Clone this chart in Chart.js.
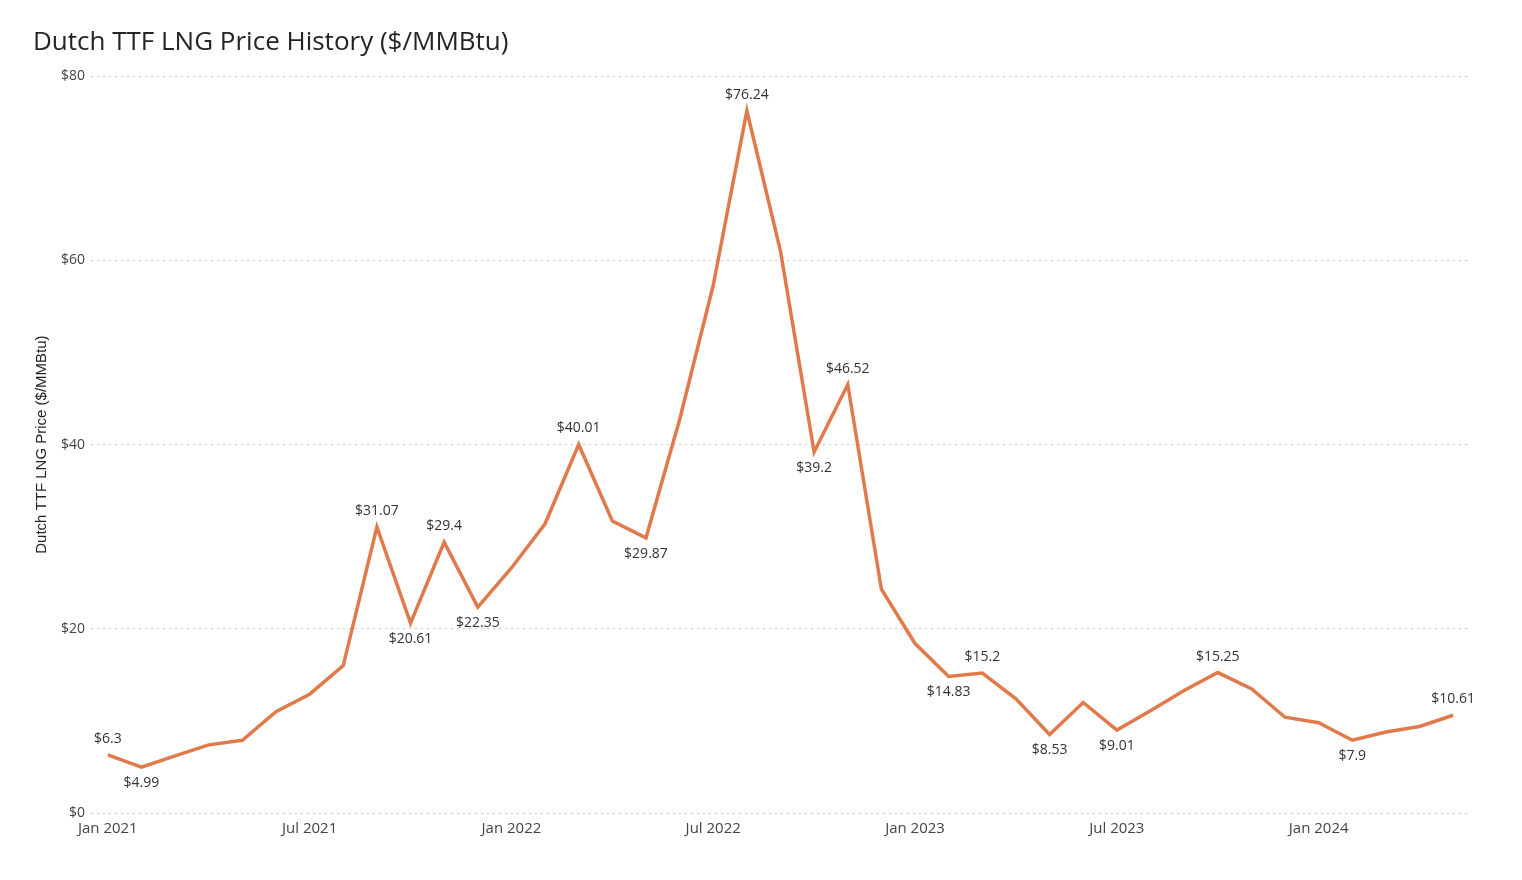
<!DOCTYPE html>
<html lang="en">
<head>
    <meta charset="UTF-8">
    <title>Dutch TTF LNG Price History</title>
    <script src="https://cdn.jsdelivr.net/npm/chart.js"></script>
    <style>
        html, body { margin: 0; padding: 0; background: #fff; }
        #wrap { width: 1522px; height: 880px; position: relative; }
    </style>
</head>
<body>
    <div id="wrap"><canvas id="chart"></canvas></div>

    <script>
        // monthly labels, Jan 2021 - May 2024
        const months = [
            'Jan 2021', 'Feb 2021', 'Mar 2021', 'Apr 2021', 'May 2021', 'Jun 2021',
            'Jul 2021', 'Aug 2021', 'Sep 2021', 'Oct 2021', 'Nov 2021', 'Dec 2021',
            'Jan 2022', 'Feb 2022', 'Mar 2022', 'Apr 2022', 'May 2022', 'Jun 2022',
            'Jul 2022', 'Aug 2022', 'Sep 2022', 'Oct 2022', 'Nov 2022', 'Dec 2022',
            'Jan 2023', 'Feb 2023', 'Mar 2023', 'Apr 2023', 'May 2023', 'Jun 2023',
            'Jul 2023', 'Aug 2023', 'Sep 2023', 'Oct 2023', 'Nov 2023', 'Dec 2023',
            'Jan 2024', 'Feb 2024', 'Mar 2024', 'Apr 2024', 'May 2024'
        ];

        const prices = [
            6.3, 4.99, 6.2, 7.4, 7.9, 11.0, 12.9, 16.0, 31.07, 20.61, 29.4, 22.35,
            26.6, 31.4, 40.01, 31.7, 29.87, 42.7, 57.3, 76.24, 61.0, 39.2, 46.52, 24.3,
            18.4, 14.83, 15.2, 12.4, 8.53, 12.0, 9.01, 11.1, 13.3, 15.25, 13.5, 10.4,
            9.8, 7.9, 8.8, 9.4, 10.61
        ];

        // which points get a value label, and where
        const labelIdx = [0, 1, 8, 9, 10, 11, 14, 16, 19, 21, 22, 25, 26, 28, 30, 33, 37, 40];
        const labelPos = ['above', 'below', 'above', 'below', 'above', 'below', 'above', 'below', 'above',
                          'below', 'above', 'below', 'above', 'below', 'below', 'above', 'below', 'above'];

        const yTicks = [0, 20, 40, 60, 80];

        const valueLabels = {
            id: 'valueLabels',
            afterDatasetsDraw(chart) {
                const ctx = chart.ctx;
                const meta = chart.getDatasetMeta(0);
                ctx.save();
                ctx.font = '14px "Open Sans", sans-serif';
                ctx.fillStyle = '#333';
                ctx.textAlign = 'center';
                ctx.textBaseline = 'middle';
                labelIdx.forEach((i, k) => {
                    const pt = meta.data[i];
                    const dy = labelPos[k] === 'above' ? -16 : 16;
                    ctx.fillText('$' + prices[i], pt.x, pt.y + dy);
                });
                ctx.restore();
            }
        };

        const ctx = document.getElementById('chart').getContext('2d');
        new Chart(ctx, {
            type: 'line',
            data: {
                labels: months,
                datasets: [{
                    data: prices,
                    borderColor: '#E07A4B',
                    borderWidth: 3.5,
                    pointRadius: 0,
                    tension: 0,
                    fill: false
                }]
            },
            options: {
                responsive: true,
                maintainAspectRatio: false,
                animation: false,
                layout: { padding: { left: 33, right: 52, top: 27, bottom: 0 } },
                plugins: {
                    legend: { display: false },
                    tooltip: { enabled: false },
                    title: {
                        display: true,
                        text: 'Dutch TTF LNG Price History ($/MMBtu)',
                        align: 'start',
                        color: '#252423',
                        font: { family: '"Open Sans", sans-serif', size: 26, weight: 'normal' },
                        padding: { top: 0, bottom: 18 }
                    }
                },
                scales: {
                    x: {
                        offset: true,
                        grid: { display: false, drawTicks: false },
                        border: { display: false },
                        ticks: {
                            autoSkip: false,
                            maxRotation: 0,
                            padding: 7,
                            color: '#444',
                            font: { family: '"Open Sans", sans-serif', size: 15 },
                            callback: (v, i) => (i % 6 === 0 ? months[i] : '')
                        },
                        afterFit: s => { s.height = 67; }
                    },
                    y: {
                        min: 0,
                        max: 80,
                        afterBuildTicks: s => { s.ticks = yTicks.map(v => ({ value: v })); },
                        grid: {
                            color: '#c8c8c8',
                            lineWidth: 1,
                            drawTicks: false
                        },
                        border: { display: false, dash: [2, 4] },
                        ticks: {
                            padding: 6,
                            color: '#444',
                            font: { family: '"Open Sans", sans-serif', size: 14 },
                            callback: v => '$' + v
                        },
                        title: {
                            display: true,
                            text: 'Dutch TTF LNG Price ($/MMBtu)',
                            color: '#222',
                            font: { family: '"Liberation Sans", Arial, sans-serif', size: 15 },
                            padding: { top: 0, bottom: 2 }
                        },
                        afterFit: s => { s.width = 58; }
                    }
                }
            },
            plugins: [valueLabels]
        });
    </script>
</body>
</html>
